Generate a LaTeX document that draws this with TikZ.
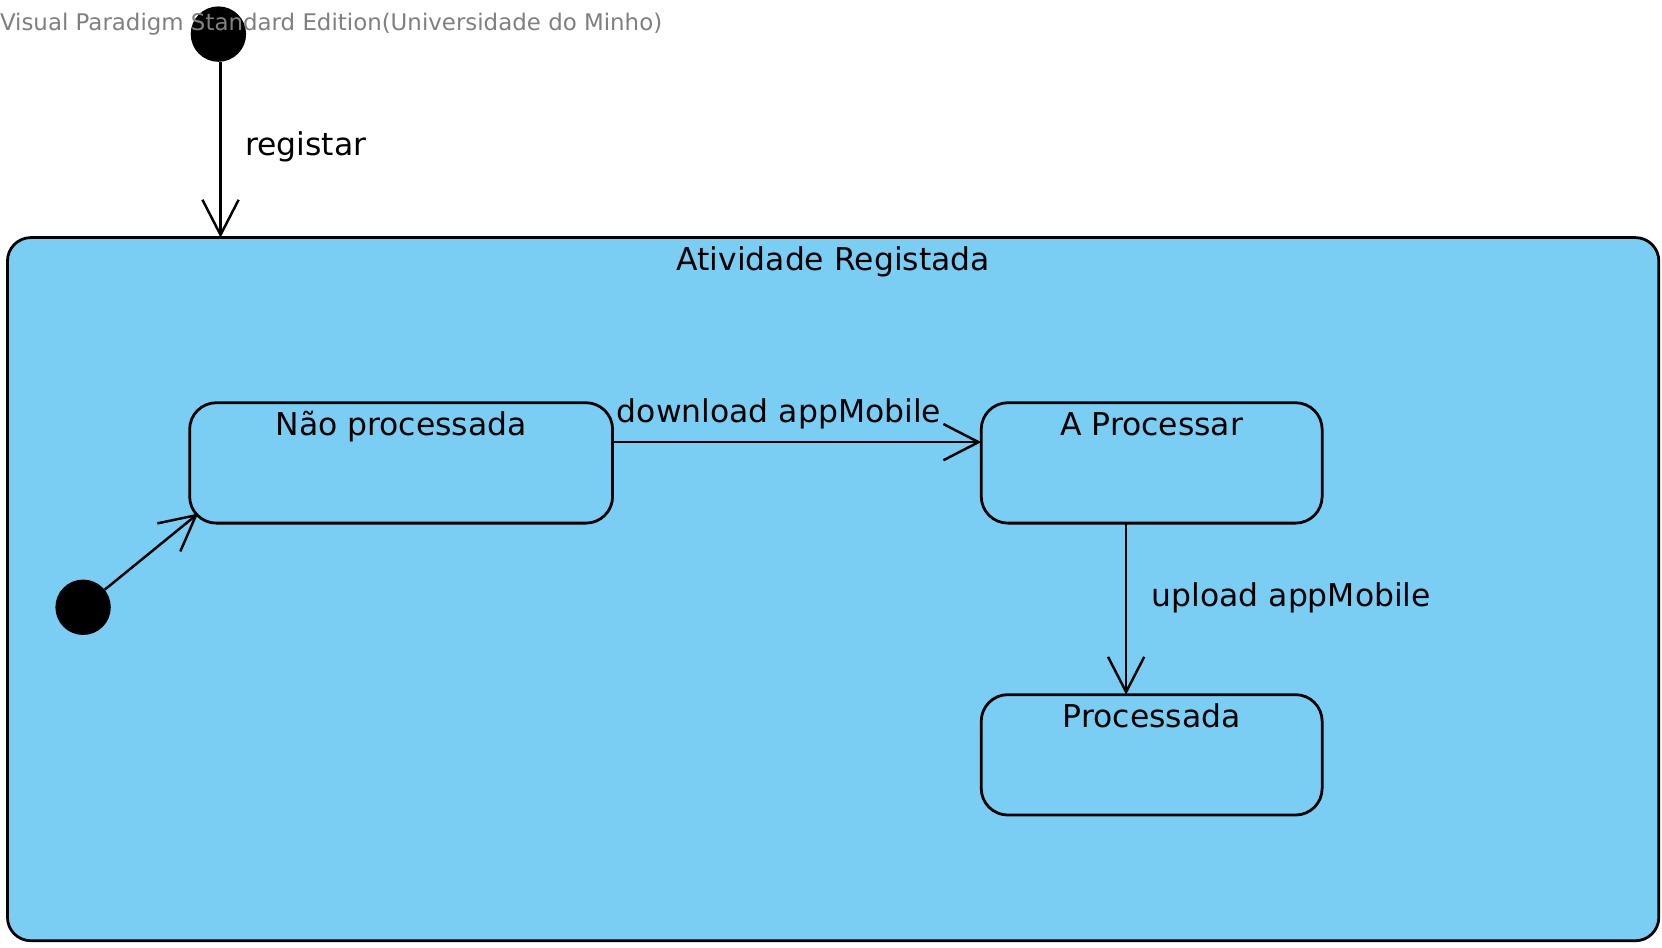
\documentclass[tikz,border=0pt]{standalone}
\usepackage{fontspec}
\setmainfont{DejaVu Sans}
\usetikzlibrary{arrows.meta,calc}
\definecolor{vpblue}{RGB}{122,206,243}
\definecolor{wmgray}{RGB}{128,128,128}
\begin{document}
\begin{tikzpicture}[x=1pt,y=-1pt,
  every node/.style={inner sep=0pt, outer sep=0pt},
  statebox/.style={draw=black, line width=2.6pt, fill=vpblue, rounded corners=25pt, anchor=north west, minimum width=320pt, minimum height=113pt},
  lbl/.style={font=\fontsize{29.5}{35}\selectfont, anchor=base west},
  trans/.style={line width=2.3pt, -{Straight Barb[length=33pt, width=34pt]}},
  initial/.style={circle, fill=black, minimum size=52pt}
]
\useasboundingbox (0,0) rectangle (1560,889.8);
% composite state
\node[statebox, rounded corners=22pt, minimum width=1550pt, minimum height=660pt] (comp) at (7,223) {};
\node[lbl, anchor=base] (comptitle) at ($(comp.north)+(0,31)$) {Atividade Registada};
% states
\node[statebox, minimum width=397pt] (np) at (178,378) {};
\node[lbl, anchor=base] (nplbl) at ($(np.north)+(0,31)$) {Não processada};
\node[statebox] (ap) at (921,378) {};
\node[lbl, anchor=base] (aplbl) at ($(ap.north)+(0,31)$) {A Processar};
\node[statebox] (pr) at (921,652) {};
\node[lbl, anchor=base] (prlbl) at ($(pr.north)+(0,31)$) {Processada};
% initial states
\node[initial] (i1) at (205,32) {};
\node[initial] (i2) at (78,570) {};
\coordinate (npc) at (186,482);
% transitions
\draw[trans] ($(i1.south)+(2,0)$) -- ($(comp.north west)+(200,0)$);
\node[lbl] (reg) at (230,146) {registar};
\draw[trans] ($(np.north east)+(0,37)$) -- ($(ap.north west)+(0,37)$);
\node[lbl] (dl) at (579,397) {download appMobile};
\draw[trans] (i2) -- (npc);
\draw[trans] ($(ap.south west)+(136,0)$) -- ($(pr.north west)+(136,0)$);
\node[lbl] (ul) at (1081,569) {upload appMobile};
% watermark
\node[anchor=base west, font=\fontsize{21.5}{25}\selectfont, text=wmgray] (wm) at (0,29) {Visual Paradigm Standard Edition(Universidade do Minho)};
\end{tikzpicture}
\end{document}
